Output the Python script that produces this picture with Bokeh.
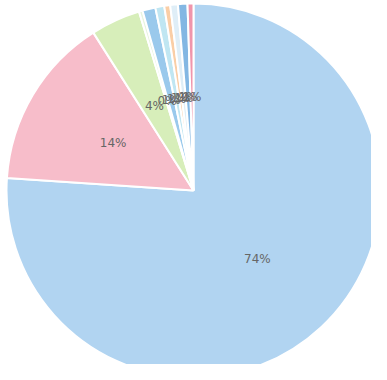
import numpy as np
from bokeh.plotting import figure
from bokeh.models import ColumnDataSource, Range1d
from bokeh.core.properties import value
from bokeh.embed import file_html
from bokeh.resources import INLINE

# data (percent shares, clockwise from 12 o'clock)
categories = ["A", "B", "C", "D", "E", "F", "G", "H", "I", "J"]
shares = [74.4, 14.6, 4.2, 0.3, 1.1, 0.75, 0.5, 0.65, 0.8, 0.5]
labels = ["74%", "14%", "4%", "0%", "1%", "1%", "1%", "1%", "1%", "1%"]
colors = ["#a9cff0", "#f6b6c4", "#d3ecb2", "#e6f3dc", "#8fc3ea", "#b9e3f1",
          "#f9c99c", "#dcecf6", "#76afe0", "#ee8aa2"]

W, H = 371, 364
cx, cy, R = 193, 174, 187

frac = np.array(shares) / np.sum(shares)
cum = np.concatenate([[0], np.cumsum(frac)])
start = np.pi / 2 - cum[:-1] * 2 * np.pi
end = np.pi / 2 - cum[1:] * 2 * np.pi
mid = (start + end) / 2
lr = R * 0.5

src = ColumnDataSource(dict(
    cat=categories, start=start, end=end, color=colors,
    lx=cx + lr * np.cos(mid), ly=cy + lr * np.sin(mid), label=labels,
))

p = figure(width=W, height=H, output_backend="svg", toolbar_location=None,
           x_range=Range1d(0, W), y_range=Range1d(0, H), min_border=0)
p.axis.visible = False
p.grid.visible = False
p.outline_line_color = None
p.background_fill_color = "white"

p.wedge(x=cx, y=cy, radius=R, start_angle="start", end_angle="end",
        direction="clock", fill_color="color", fill_alpha=0.9,
        line_color="white", line_width=2, source=src)
p.text(x="lx", y="ly", text="label", source=src, text_align="center",
       text_baseline="middle", text_font=value("DejaVu Sans"),
       text_font_size="12px", text_color="#666666")

open("out.html", "w").write(file_html(p, INLINE))
